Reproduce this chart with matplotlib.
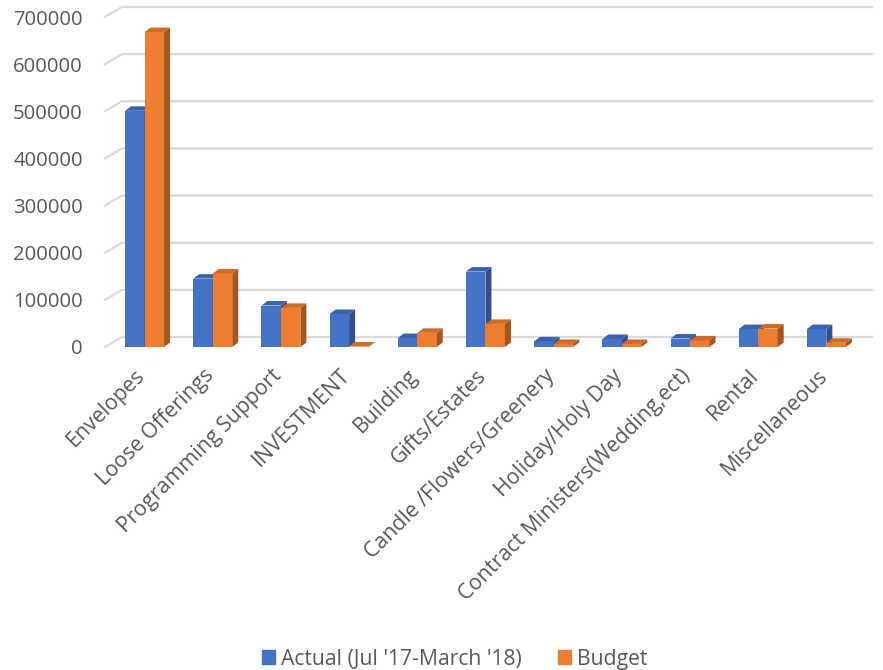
import matplotlib
matplotlib.use("Agg")
import matplotlib.pyplot as plt
from matplotlib.patches import Polygon, Patch
from matplotlib.transforms import ScaledTranslation

# dados
categories = ["Envelopes", "Loose Offerings", "Programming Support", "INVESTMENT",
              "Building", "Gifts/Estates", "Candle /Flowers/Greenery",
              "Holiday/Holy Day", "Contract Ministers(Wedding,ect)", "Rental",
              "Miscellaneous"]
actual = [501000, 145000, 88000, 70000, 19000, 160000, 12000, 17000, 18000, 38000, 38000]
budget = [668000, 156000, 83000, 1000, 30000, 49000, 6500, 6500, 14000, 39000, 9000]
series_names = ["Actual (Jul '17-March '18)", "Budget"]
yticks = [0, 100000, 200000, 300000, 400000, 500000, 600000, 700000]

plt.rcParams['font.family'] = ['Open Sans', 'DejaVu Sans']
gray = '#595959'

W, H = 883, 670
fig = plt.figure(figsize=(W / 100, H / 100), dpi=100)
ax_l, ax_r, ax_top, ax_bot = 105, 855, 17, 347
ax = fig.add_axes([ax_l / W, (H - ax_bot) / H, (ax_r - ax_l) / W, (ax_bot - ax_top) / H])
xmin, xmax = -0.58, 10.42
ymax = 700000
ax.set_xlim(xmin, xmax)
ax.set_ylim(0, ymax)
for s in ax.spines.values():
    s.set_visible(False)

# pixels -> unidades de dados
upx = (xmax - xmin) / (ax_r - ax_l)
upy = ymax / (ax_bot - ax_top)

# grade no plano de fundo (efeito 3D)
gdx, gdy = 17 * upx, 10 * upy
x_back_right = xmin + (872 - ax_l) * upx
for v in yticks:
    ax.plot([xmin, xmin + gdx, x_back_right], [v, v + gdy, v + gdy],
            color='#d9d9d9', lw=1.6, zorder=0, clip_on=False)

# barras com faces de topo e lateral
bw = 0.286
bdx, bdy = 6 * upx, 4.5 * upy
colors = [('#4472C4', '#3A63AE', '#2F528F'), ('#ED7D31', '#CF6A27', '#A5561F')]
z = 2
for i in range(len(categories)):
    for k, vals in enumerate([actual, budget]):
        h = vals[i]
        xl = i - bw + k * bw
        xr = xl + bw
        front, top, side = colors[k]
        ax.bar(xl, h, width=bw, align='edge', color=front, zorder=z, linewidth=0)
        ax.add_patch(Polygon([(xl, h), (xr, h), (xr + bdx, h + bdy), (xl + bdx, h + bdy)],
                             closed=True, facecolor=top, edgecolor='none', zorder=z, clip_on=False))
        ax.add_patch(Polygon([(xr, 0), (xr + bdx, bdy), (xr + bdx, h + bdy), (xr, h)],
                             closed=True, facecolor=side, edgecolor='none', zorder=z, clip_on=False))
        z += 1

ax.set_yticks(yticks)
ax.set_yticklabels([str(v) for v in yticks], fontsize=14.6, color=gray)
ax.set_xticks(range(len(categories)))
ax.set_xticklabels(categories, rotation=45, ha='right', va='top', rotation_mode='anchor',
                   fontsize=15.3, color=gray)
ax.tick_params(axis='y', length=0, pad=16)
ax.tick_params(axis='x', length=0, pad=13)
# desloca os rotulos do eixo x um pouco para a esquerda
shift = ScaledTranslation(-7 / 72, 0, fig.dpi_scale_trans)
for lab in ax.get_xticklabels():
    lab.set_transform(lab.get_transform() + shift)

handles = [Patch(color=colors[0][0]), Patch(color=colors[1][0])]
fig.legend(handles, series_names, loc='lower center', bbox_to_anchor=(0.515, -0.028), ncol=2,
           frameon=False, fontsize=15.2, handlelength=0.62, handleheight=0.62,
           handletextpad=0.3, columnspacing=1.7, labelcolor=gray)

fig.savefig('out.png', dpi=100)
plt.close(fig)
